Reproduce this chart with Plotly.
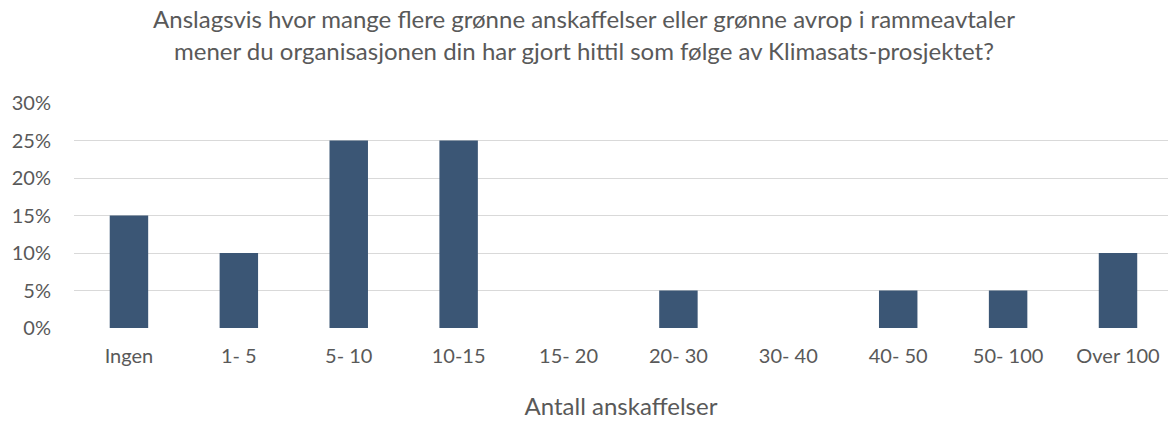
import plotly.graph_objects as go

categories = ["Ingen", "1- 5", "5- 10", "10-15", "15- 20", "20- 30", "30- 40", "40- 50", "50- 100", "Over 100"]
values = [0.15, 0.10, 0.25, 0.25, 0.0, 0.05, 0.0, 0.05, 0.05, 0.10]
y_ticks = [0, 0.05, 0.10, 0.15, 0.20, 0.25, 0.30]
y_labels = ["0%", "5%", "10%", "15%", "20%", "25%", "30%"]

title = ("Anslagsvis hvor mange flere grønne anskaffelser eller grønne avrop i rammeavtaler<br>"
         "mener du organisasjonen din har gjort hittil som følge av Klimasats-prosjektet?")

fig = go.Figure(go.Bar(
    x=list(range(len(categories))), y=values, width=0.35,
    marker=dict(color="#3B5675", line=dict(width=0)),
))

font = "Lato, 'Open Sans', sans-serif"
fig.update_layout(
    width=1168, height=424,
    margin=dict(l=74, r=0, t=103, b=96),
    paper_bgcolor="white", plot_bgcolor="white",
    font=dict(family=font, color="#595959", size=20),
    title=dict(text=title, x=0.5, xanchor="center", xref="container", y=0.933, yanchor="top",
               font=dict(size=24, color="#595959", family=font)),
    showlegend=False,
    xaxis=dict(
        tickmode="array", tickvals=list(range(len(categories))), ticktext=categories,
        range=[-0.5, 9.455], showgrid=False, zeroline=False, showline=False,
        ticks="", ticklabelstandoff=14, tickfont=dict(size=20),
        title=dict(text="Antall anskaffelser", font=dict(size=24), standoff=32),
    ),
    yaxis=dict(
        range=[0, 0.30], tickmode="array", tickvals=y_ticks, ticktext=y_labels,
        showgrid=True, gridcolor="#D9D9D9", gridwidth=1.3, zeroline=False,
        showline=False, ticks="", ticklabelstandoff=22, tickfont=dict(size=20),
    ),
)

fig.write_html("out.html", config={"displayModeBar": False},
               post_script="document.body.style.margin='0';document.body.style.overflow='hidden';")
